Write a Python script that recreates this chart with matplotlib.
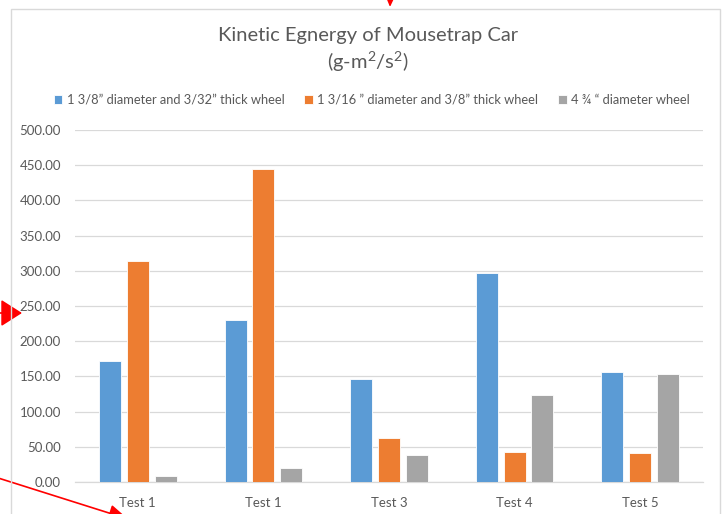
#!/usr/bin/env python3
"""Kinetic energy of mousetrap car, grouped bar chart (Excel-style)."""

import matplotlib

matplotlib.use("Agg")

import matplotlib.pyplot as plt
import numpy as np
from matplotlib.patches import Rectangle

plt.rcParams["font.family"] = ["Lato", "DejaVu Sans"]
plt.rcParams["mathtext.default"] = "regular"

categories = ["Test 1", "Test 1", "Test 3", "Test 4", "Test 5"]
series_names = [
    "1 3/8\u201d diameter and 3/32\u201d thick wheel",
    "1 3/16 \u201d diameter and 3/8\u201d thick wheel",
    "4 \u00be \u201c diameter wheel",
]
small_wheel = [172.0, 230.0, 146.0, 297.5, 156.5]
medium_wheel = [314.0, 444.5, 62.5, 43.0, 41.0]
large_wheel = [8.5, 20.5, 38.0, 124.0, 153.0]
series_values = [small_wheel, medium_wheel, large_wheel]
colors = ["#5B9BD5", "#ED7D31", "#A5A5A5"]
y_ticks = np.arange(0, 501, 50)

TEXT = "#595959"
GRID = "#D9D9D9"

W, H = 725, 514
fig = plt.figure(figsize=(W / 100, H / 100), dpi=100)

# chart frame
fig.patches.append(Rectangle((11 / W, -0.05), (720 - 11) / W, 1.05 - 9 / H,
                             transform=fig.transFigure, fill=False,
                             edgecolor=GRID, linewidth=1.0))

ax = fig.add_axes([75 / W, 1 - 482 / H, (703 - 75) / W, (482 - 130) / H])

x = np.arange(len(categories))
bar_w = 0.175
step = 0.222
for i, (vals, name, col) in enumerate(zip(series_values, series_names, colors)):
    ax.bar(x + (i - 1) * step, vals, width=bar_w, color=col, label=name,
           edgecolor="white", linewidth=0.6, zorder=3)

ax.set_xlim(-0.5, len(categories) - 0.5)
ax.set_ylim(0, 500)
ax.set_yticks(y_ticks)
ax.set_yticklabels([f"{v:.2f}" for v in y_ticks])
ax.set_xticks(x)
ax.set_xticklabels(categories)
ax.tick_params(axis="both", length=0, colors=TEXT, labelsize=9.5)
ax.tick_params(axis="y", pad=10)
ax.tick_params(axis="x", pad=11)
ax.grid(axis="y", color=GRID, linewidth=0.9, zorder=0)
for side in ["top", "right", "left"]:
    ax.spines[side].set_visible(False)
ax.spines["bottom"].set_color(GRID)
ax.spines["bottom"].set_linewidth(0.9)

fig.text(0.507, 1 - 36 / H, "Kinetic Egnergy of Mousetrap Car", ha="center",
         va="center", fontsize=14.5, color=TEXT)
fig.text(0.507, 1 - 62 / H, "(g-m$^{2}$/s$^{2}$)", ha="center",
         va="center", fontsize=14.5, color=TEXT)

fig.legend(loc="center", bbox_to_anchor=(0.513, 1 - 100 / H), ncol=3,
           frameon=False, fontsize=9.3, labelcolor=TEXT, handlelength=0.65,
           handleheight=0.65, handletextpad=0.35, columnspacing=1.55)

# red annotation arrows drawn over the screenshot
arrow = dict(arrowstyle="-|>,head_length=0.5,head_width=0.22", color="red",
             lw=1.2, mutation_scale=24, shrinkA=0, shrinkB=0)
big_arrow = dict(arrowstyle="-|>,head_length=0.55,head_width=0.35", color="red",
                 lw=1.2, mutation_scale=24, shrinkA=0, shrinkB=0)
ax.annotate("", xy=(390, H - 7), xytext=(391, H + 30), xycoords="figure pixels",
            textcoords="figure pixels", arrowprops=arrow, annotation_clip=False)
ax.annotate("", xy=(22, H - 313), xytext=(-15, H - 313), xycoords="figure pixels",
            textcoords="figure pixels", arrowprops=big_arrow, annotation_clip=False)
ax.annotate("", xy=(128, -5), xytext=(-5, H - 477), xycoords="figure pixels",
            textcoords="figure pixels", arrowprops=arrow, annotation_clip=False)

fig.savefig("out.png", dpi=100)
plt.close(fig)
